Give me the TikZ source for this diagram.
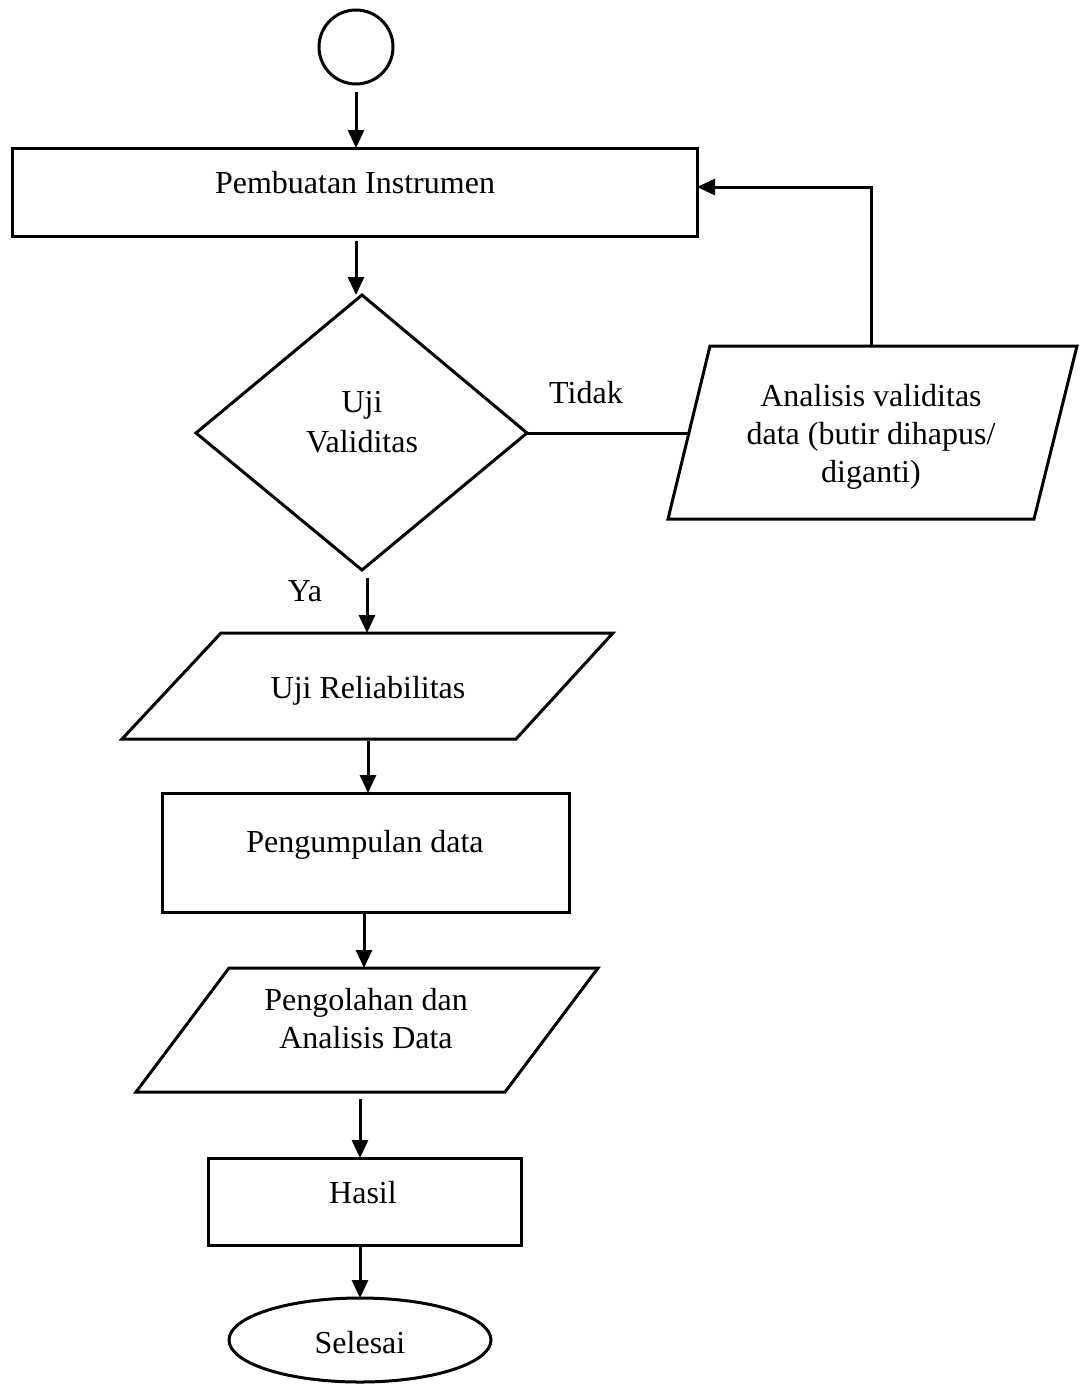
\documentclass[tikz,border=0pt]{standalone}
\usepackage{fontspec}
\setmainfont{Liberation Serif}
\usetikzlibrary{arrows.meta,shapes.geometric}
\begin{document}
\begin{tikzpicture}[x=1pt,y=-1pt,
  shapeline/.style={line width=3pt, line join=miter},
  conn/.style={line width=3pt,-{Triangle[length=18pt,width=16pt]}},
  plainline/.style={line width=3pt},
  lbl/.style={font=\fontsize{32}{38}\selectfont, inner sep=0pt, anchor=base, align=center}]
\useasboundingbox (0,0) rectangle (1080,1384);

% start circle
\node[circle, draw, shapeline, minimum size=74pt, inner sep=0pt] (start) at (356,47) {};

% rectangle 1
\node[rectangle, draw, shapeline, minimum width=685pt, minimum height=88pt, inner sep=0pt] (rA) at (354.5,192) {};
\node[lbl] (tA) at (355,193) {Pembuatan Instrumen};

% diamond
\coordinate (dT) at (362,295);
\coordinate (dR) at (527,433);
\coordinate (dB) at (362,570);
\coordinate (dL) at (196,433);
\draw[shapeline] (dT) -- (dR) -- (dB) -- (dL) -- cycle;
\node[lbl] (tD1) at (362,412) {Uji};
\node[lbl] (tD2) at (362,452) {Validitas};

% analysis parallelogram
\coordinate (pA1) at (710,346);
\coordinate (pA2) at (1077,346);
\coordinate (pA3) at (1034,519);
\coordinate (pA4) at (668,519);
\draw[shapeline] (pA1) -- (pA2) -- (pA3) -- (pA4) -- cycle;
\coordinate (pAtop) at (871,346);
\coordinate (pAleft) at (689,433);
\node[lbl] (tP1) at (871,482) {Analisis validitas\\data (butir dihapus/\\diganti)};

% labels
\node[lbl] (tidak) at (586,403) {Tidak};
\node[lbl] (ya) at (305,601) {Ya};

% reliabilitas parallelogram
\coordinate (pB1) at (221,633);
\coordinate (pB2) at (613,633);
\coordinate (pB3) at (516,739);
\coordinate (pB4) at (122,739);
\draw[shapeline] (pB1) -- (pB2) -- (pB3) -- (pB4) -- cycle;
\node[lbl] (tB) at (368,698) {Uji Reliabilitas};

% pengumpulan data
\node[rectangle, draw, shapeline, minimum width=407pt, minimum height=119pt, inner sep=0pt] (rB) at (365.5,852.5) {};
\node[lbl] (tRB) at (365,852) {Pengumpulan data};

% pengolahan parallelogram
\coordinate (pC1) at (229,968);
\coordinate (pC2) at (598,968);
\coordinate (pC3) at (505,1092);
\coordinate (pC4) at (136,1092);
\draw[shapeline] (pC1) -- (pC2) -- (pC3) -- (pC4) -- cycle;
\node[lbl] (tC) at (366,1048) {Pengolahan dan\\Analisis Data};

% hasil
\node[rectangle, draw, shapeline, minimum width=313pt, minimum height=87pt, inner sep=0pt] (rC) at (364.5,1201.5) {};
\node[lbl] (tRC) at (363,1203) {Hasil};

% selesai
\node[ellipse, draw, shapeline, minimum width=262pt, minimum height=84pt, inner sep=0pt] (end) at (360,1340) {};
\node[lbl] (tE) at (360,1353) {Selesai};

% connector points
\coordinate (c1s) at (356,92);
\coordinate (c1e) at (356,148);
\coordinate (c2s) at (356,241);
\coordinate (c2e) at (356,295);
\coordinate (c3s) at (367,578);
\coordinate (c3e) at (367,633);
\coordinate (c4s) at (368,741);
\coordinate (c4e) at (368,793);
\coordinate (c5s) at (364,914);
\coordinate (c5e) at (364,968);
\coordinate (c6s) at (360,1099);
\coordinate (c6e) at (360,1158);
\coordinate (c7s) at (360,1245);
\coordinate (c7e) at (360,1298);
\coordinate (loopTurn) at (871,187);
\coordinate (loopEnd) at (697,187);

\draw[conn] (c1s) -- (c1e);
\draw[conn] (c2s) -- (c2e);
\draw[plainline] (dR) -- (pAleft);
\draw[conn] (pAtop) -- (loopTurn) -- (loopEnd);
\draw[conn] (c3s) -- (c3e);
\draw[conn] (c4s) -- (c4e);
\draw[conn] (c5s) -- (c5e);
\draw[conn] (c6s) -- (c6e);
\draw[conn] (c7s) -- (c7e);
\end{tikzpicture}
\end{document}
